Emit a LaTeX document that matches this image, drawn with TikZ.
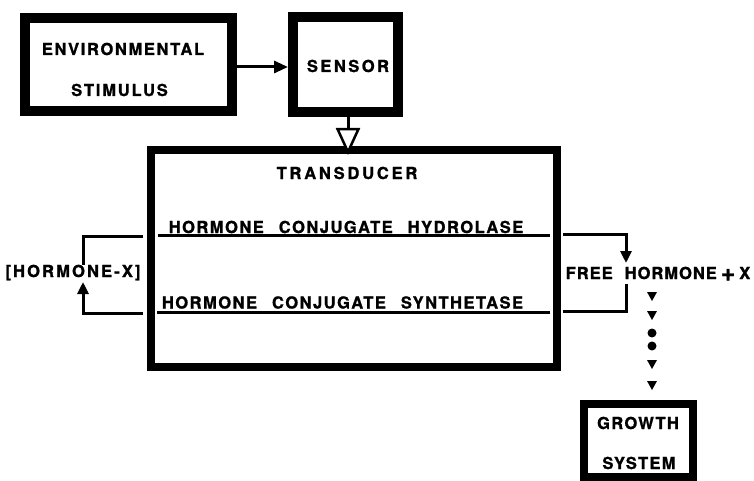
\documentclass[tikz,border=0pt]{standalone}
\usepackage{fontspec}
\usepackage{graphicx}
\setmainfont{TeX Gyre Heros}
\usetikzlibrary{arrows.meta}
\begin{document}
\begin{tikzpicture}[x=1pt,y=-1pt,
  lab/.style={inner sep=0pt, outer sep=0pt, text height=12pt, text depth=0pt,
    font=\bfseries\fontsize{16.5}{16.5}\selectfont\addfontfeatures{LetterSpace=#1,FakeBold=1.2}},
  lab/.default=6,
  blk/.style={draw, inner sep=0pt, outer sep=0pt, line width=#1},
  wire/.style={line width=3pt},
  tip/.style={-{Triangle[length=12pt,width=11pt]}},
  bullet/.style={fill=black}]
\useasboundingbox (0,0) rectangle (754,481);

% boxes
\node[blk=10pt, minimum width=207pt, minimum height=93pt] (env) at (128.5,64.5) {};
\node[blk=10pt, minimum width=105pt, minimum height=95pt] (sensor) at (345.5,64.5) {};
\node[blk=8pt, minimum width=406pt, minimum height=217pt] (trans) at (354,258.5) {};
\node[blk=8pt, minimum width=109pt, minimum height=73pt] (growth) at (638.5,440.5) {};

% texts
\node[lab=10] (envA) at (123,49) {ENVIRONMENTAL};
\node[lab=11] (envB) at (119.5,90) {STIMULUS};
\node[lab=15] (sens) at (348,66) {SENSOR};
\node[lab=17] (tr) at (347,173) {TRANSDUCER};
\node[lab=9] (hyd) at (346,227) {HORMONE\hspace{15pt}CONJUGATE\hspace{15pt}HYDROLASE};
\node[lab=9] (syn) at (342.5,302.5) {HORMONE\hspace{15pt}CONJUGATE\hspace{15pt}SYNTHETASE};
\node[lab=13] (hx) at (73,271) {[HORMONE-X]};
\node[lab=6] (fh) at (658,273) {FREE\hspace{12pt}HORMONE\hspace{4pt}\raisebox{-2pt}{\scalebox{1.5}{+}}\hspace{4pt}X};
\node[lab=8] (grA) at (638,423) {GROWTH};
\node[lab=8] (grB) at (639,463) {SYSTEM};

% environmental stimulus -> sensor
\draw[wire, -{Triangle[length=14pt,width=12pt]}]
  ([xshift=5pt,yshift=-2.5pt]env.east) -- ([xshift=-5pt,yshift=-2.5pt]sensor.west);
% sensor -> transducer (hollow)
\draw[wire, -{Triangle[length=27pt,width=24pt,fill=white,line width=2.5pt]}]
  ([xshift=2.5pt,yshift=-5pt]sensor.south) -- ([xshift=2.5pt,yshift=-5pt]sensor.south |- trans.north);

% enzyme lines
\coordinate (h1) at (158,235); \coordinate (h2) at (550,235);
\coordinate (s1) at (157,312); \coordinate (s2) at (550,312);
\draw[wire] (h1) -- (h2);
\draw[wire] (s1) -- (s2);

% left loop
\coordinate (lt) at (143,236);
\coordinate (lb) at (143,313);
\draw[wire] (lt) -| ([xshift=10pt]hx.north);
\draw[wire, tip] (lb) -| ([xshift=10pt,yshift=-5pt]hx.south);

% right loop
\coordinate (rt) at (563,234);
\coordinate (rb) at (563,311);
\draw[wire, tip] (rt) -| ([xshift=-32pt,yshift=4pt]fh.north);
\draw[wire] (rb) -| ([xshift=-32pt,yshift=-5pt]fh.south);

% chain to growth system
\foreach \yy in {296,315,364,385}
  \fill (647,\yy-4) -- (657,\yy-4) -- (652,\yy+5) -- cycle;
\foreach \yy in {333,346}
  \fill (652,\yy) circle (4.5);
\end{tikzpicture}
\end{document}
